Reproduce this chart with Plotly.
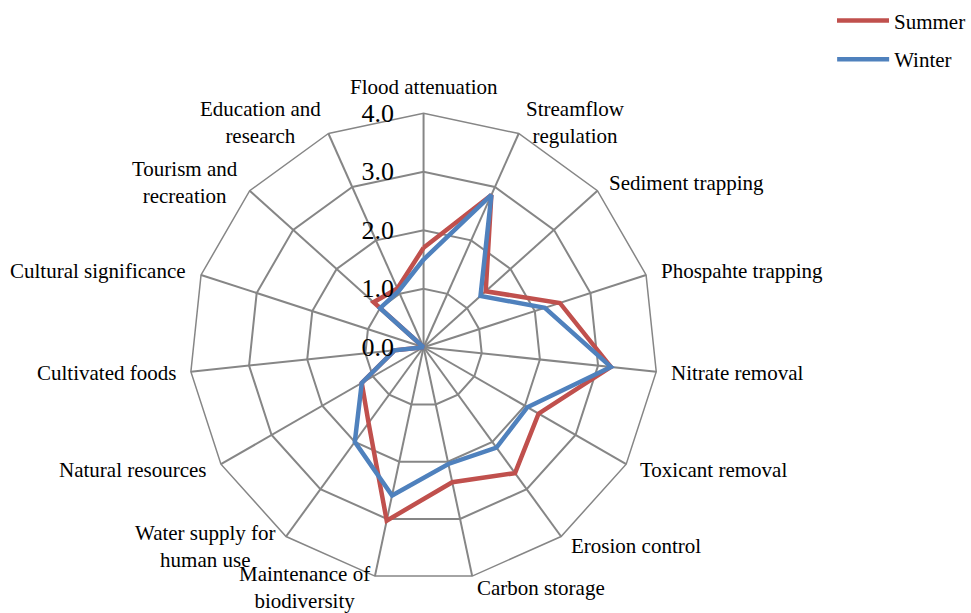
import math
import plotly.graph_objects as go

# Wetland ecosystem service categories (clockwise from top)
categories = [
    "Flood attenuation",
    "Streamflow<br>regulation",
    "Sediment trapping",
    "Phospahte trapping",
    "Nitrate removal",
    "Toxicant removal",
    "Erosion control",
    "Carbon storage",
    "Maintenance of<br>biodiversity",
    "Water supply for<br>human use",
    "Natural resources",
    "Cultivated foods",
    "Cultural significance",
    "Tourism and<br>recreation",
    "Education and<br>research",
]

summer = [1.7, 2.85, 1.43, 2.45, 3.22, 2.27, 2.66, 2.36, 3.03, 1.6, 1.22, 0.5, 0.0, 1.15, 1.1]
winter = [1.5, 2.85, 1.31, 2.18, 3.22, 2.05, 2.12, 2.04, 2.59, 2.0, 1.22, 0.5, 0.0, 1.0, 1.05]

radial_ticks = [0, 1, 2, 3, 4]
radial_ticktext = ["0.0", "1.0", "2.0", "3.0", "4.0"]

FONT = "Liberation Serif, Times New Roman, serif"
GRID = "#868686"


def closed(values):
    return values + values[:1]


fig = go.Figure()
fig.add_trace(go.Scatterpolar(
    r=closed(summer), theta=closed(categories), mode="lines",
    name="Summer", line=dict(color="#C0504D", width=4.5),
    legend="legend",
))
fig.add_trace(go.Scatterpolar(
    r=closed(winter), theta=closed(categories), mode="lines",
    name="Winter", line=dict(color="#4F81BD", width=4.5),
    legend="legend2",
))

# Canvas and polar geometry (pixels)
W, H = 971, 613
cx, cy, R = 424, 345.5, 235.5
LABEL_GAP = 12

# Category labels placed just outside each outer vertex, pointing away from the centre
annotations = []
n = len(categories)
for i, name in enumerate(categories):
    ang = 2 * math.pi * i / n
    s, c = math.sin(ang), math.cos(ang)
    px = cx + (R + LABEL_GAP) * s
    py = cy - (R + LABEL_GAP) * c
    if abs(s) < 0.05:
        xanchor = "center"
        yanchor = "bottom" if c > 0 else "top"
    else:
        xanchor = "left" if s > 0 else "right"
        yanchor = "middle"
    annotations.append(dict(
        text=name, x=px / W, y=1 - py / H, xref="paper", yref="paper",
        xanchor=xanchor, yanchor=yanchor, align="center", showarrow=False,
        font=dict(family=FONT, size=21, color="black"),
    ))

legend_style = dict(
    xanchor="left", yanchor="middle",
    font=dict(family=FONT, size=21, color="black"),
    bgcolor="rgba(0,0,0,0)",
    itemwidth=52,
)

fig.update_layout(
    width=W, height=H,
    margin=dict(l=0, r=0, t=0, b=0),
    paper_bgcolor="white",
    plot_bgcolor="white",
    font=dict(family=FONT, color="black", size=21),
    annotations=annotations,
    polar=dict(
        domain=dict(
            x=[(cx - R) / W, (cx + R) / W],
            y=[(H - cy - R) / H, (H - cy + R) / H],
        ),
        bgcolor="white",
        gridshape="linear",
        angularaxis=dict(
            direction="clockwise",
            rotation=90,
            type="category",
            categoryarray=categories,
            showline=True, linecolor=GRID, linewidth=1.5,
            gridcolor=GRID, gridwidth=1.5,
            ticks="", showticklabels=False,
        ),
        radialaxis=dict(
            range=[0, 4],
            angle=90,
            side="counterclockwise",
            tickmode="array",
            tickvals=radial_ticks,
            ticktext=radial_ticktext,
            showline=False,
            gridcolor=GRID, gridwidth=1.5,
            ticks="outside", ticklen=20, tickcolor="rgba(0,0,0,0)",
            tickfont=dict(family=FONT, size=26, color="black"),
            tickangle=90,
        ),
    ),
    legend=dict(x=833 / W, y=1 - 17 / H, **legend_style),
    legend2=dict(x=833 / W, y=1 - 56 / H, **legend_style),
    showlegend=True,
)

fig.write_html("out.html")
